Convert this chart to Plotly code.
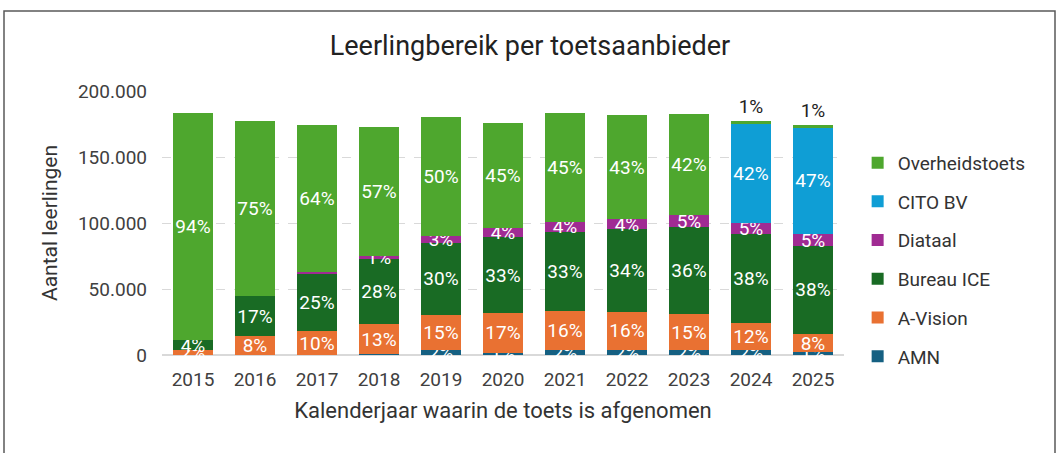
import plotly.graph_objects as go

years = ["2015", "2016", "2017", "2018", "2019", "2020", "2021", "2022", "2023", "2024", "2025"]

amn            = [0,      0,      0,      500,    3600,   1800,   3700,   3600,   3700,   3500,   2000]
a_vision       = [3700,   14200,  18100,  23000,  27000,  29800,  29300,  29300,  27400,  21000,  14100]
bureau_ice     = [7300,   30200,  43800,  48900,  54000,  57900,  60400,  62400,  65700,  67200,  66700]
diataal        = [0,      0,      800,    2300,   5400,   7000,   7300,   7500,   9100,   8500,   8600]
cito_bv        = [0,      0,      0,      0,      0,      0,      0,      0,      0,      75100,  81300]
overheidstoets = [172300, 133100, 111500, 98300,  90000,  79000,  82300,  79000,  76700,  2000,   1500]

series = [
    ("AMN", amn, "#156082"),
    ("A-Vision", a_vision, "#E97132"),
    ("Bureau ICE", bureau_ice, "#196B24"),
    ("Diataal", diataal, "#A02B93"),
    ("CITO BV", cito_bv, "#0F9ED5"),
    ("Overheidstoets", overheidstoets, "#4EA72E"),
]

totals = [sum(s[1][i] for s in series) for i in range(len(years))]

FONT = "Roboto, Liberation Sans, sans-serif"

fig = go.Figure()
n = len(series)
for k, (name, vals, color) in enumerate(series):
    texts = []
    for v, t in zip(vals, totals):
        p = round(v / t * 100)
        texts.append(f"{p}%" if p >= 1 else "")
    if name == "Overheidstoets":
        pos = ["outside" if v / t < 0.03 else "inside" for v, t in zip(vals, totals)]
    else:
        pos = "inside"
    fig.add_trace(go.Bar(
        x=years, y=vals, name=name, marker_color=color,
        marker_line_width=0,
        text=texts, textposition=pos, textangle=0,
        insidetextanchor="middle", constraintext="none",
        insidetextfont=dict(color="white", size=19, family=FONT),
        outsidetextfont=dict(color="#222222", size=19, family=FONT),
        cliponaxis=False,
        legendgroup=name, legendrank=n - k,
        hoverinfo="x+y+name",
    ))

fig.update_layout(
    width=1060, height=453,
    barmode="stack", bargap=0.34,
    separators=",.",
    paper_bgcolor="white", plot_bgcolor="white",
    margin=dict(l=162, r=216, t=91, b=98),
    font=dict(family=FONT, color="#404040", size=18),
    title=dict(text="Leerlingbereik per toetsaanbieder", x=0.5, xanchor="center",
               y=0.9, yanchor="middle", font=dict(size=27, color="#222222", family=FONT)),
    legend=dict(x=1.02, xanchor="left", y=0.80, yanchor="top",
                traceorder="grouped", tracegroupgap=11,
                font=dict(size=19, color="#333333", family=FONT),
                itemwidth=30),
    showlegend=True,
    uniformtext=dict(mode="show", minsize=19),
)

fig.update_xaxes(
    type="category", showline=False, ticks="",
    tickfont=dict(size=19, color="#404040"), ticklabelstandoff=11,
    title=dict(text="Kalenderjaar waarin de toets is afgenomen", font=dict(size=22, color="#333333"), standoff=12),
)
fig.update_yaxes(
    range=[0, 200000], tickvals=[0, 50000, 100000, 150000, 200000],
    tickformat=",d", showgrid=True, gridcolor="#D9D9D9", griddash="dash", gridwidth=1,
    zeroline=True, zerolinecolor="#D9D9D9", zerolinewidth=1.5,
    tickfont=dict(size=19, color="#404040"), ticks="", ticklabelstandoff=14,
    title=dict(text="Aantal leerlingen", font=dict(size=21, color="#333333"), standoff=14),
)

fig.add_shape(type="rect", xref="paper", yref="paper",
              x0=(4 - 162) / 682, x1=(1055 - 162) / 682,
              y0=(355 - 470) / 264, y1=(355 - 11) / 264,
              line=dict(color="#595959", width=1.5), fillcolor="rgba(0,0,0,0)", layer="above")

fig.write_html("out.html", config={"displayModeBar": False},
               post_script="document.body.style.margin='0';")
